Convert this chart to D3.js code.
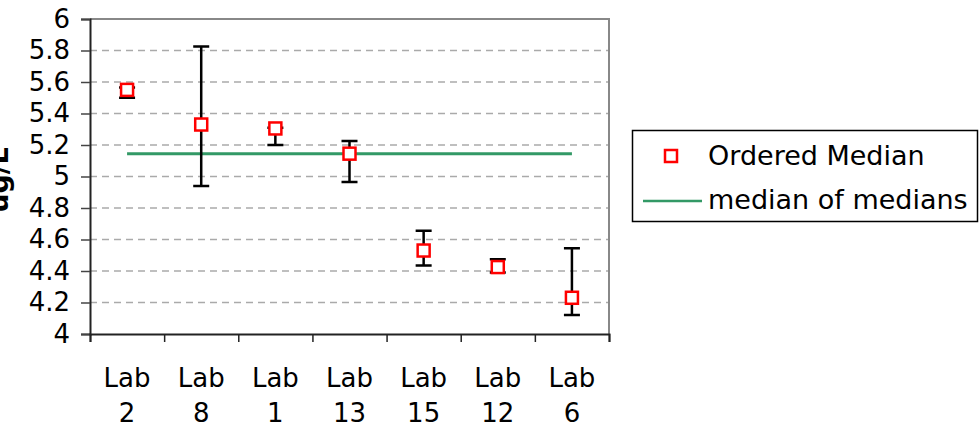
<!DOCTYPE html>
<html>
<head>
<meta charset="utf-8">
<script src="https://cdn.jsdelivr.net/npm/d3@7/dist/d3.min.js"></script>
<style>
	body { margin: 0; background: #fff; }
	svg text { font-family: "DejaVu Sans", Verdana, sans-serif; fill: #000; }
</style>
</head>
<body>
<div id="chart"></div>
<script>

// data
const labs = [ "Lab 2", "Lab 8", "Lab 1", "Lab 13", "Lab 15", "Lab 12", "Lab 6" ];
const medians = [ 5.55, 5.33, 5.305, 5.145, 4.53, 4.425, 4.23 ];
const lows    = [ 5.50, 4.94, 5.20, 4.965, 4.435, 4.39, 4.12 ];
const highs   = [ 5.565, 5.825, 5.31, 5.225, 4.655, 4.475, 4.545 ];
const median_of_medians = 5.145;
const y_ticks = [ 4, 4.2, 4.4, 4.6, 4.8, 5, 5.2, 5.4, 5.6, 5.8, 6 ];
const legend_names = [ "Ordered Median", "median of medians" ];

///////////////////////////////////////////////////////////////////////

const width = 979, height = 437;
const plot = { left: 90, right: 609, top: 19, bottom: 334 };
const font_size = 26;

const svg = d3.select( "#chart" )
	.append( "svg" )
	.attr( "width", width )
	.attr( "height", height );

const X = d3.scaleBand()
	.domain( labs )
	.range( [ plot.left, plot.right ] );

const X_edges = d3.scaleLinear()
	.domain( [ 0, labs.length ] )
	.range( [ plot.left, plot.right ] );

const Y = d3.scaleLinear()
	.domain( [ 4, 6 ] )
	.range( [ plot.bottom, plot.top ] );

const cx = d => X( d ) + X.bandwidth() / 2;

// gridlines
svg.append( "g" )
	.selectAll( "line" )
	.data( y_ticks.filter( t => t > 4 && t < 6 ) )
	.join( "line" )
		.attr( "x1", plot.left )
		.attr( "x2", plot.right )
		.attr( "y1", d => Y( d ) )
		.attr( "y2", d => Y( d ) )
		.attr( "stroke", "#aaa" )
		.attr( "stroke-width", 1.5 )
		.attr( "stroke-dasharray", "7,5" );

// plot area frame (top and right in grey)
svg.append( "path" )
	.attr( "d", `M${plot.left},${plot.top}H${plot.right}V${plot.bottom}` )
	.attr( "fill", "none" )
	.attr( "stroke", "#888" )
	.attr( "stroke-width", 2 );

// y axis
const y_axis = svg.append( "g" )
	.attr( "transform", `translate(${plot.left},0)` )
	.call( d3.axisLeft( Y ).tickValues( y_ticks ).tickSize( 9 ).tickPadding( 11 ).tickFormat( d => d ) );
y_axis.select( ".domain" ).attr( "stroke", "#222" ).attr( "stroke-width", 2 );
y_axis.selectAll( ".tick line" ).attr( "stroke", "#444" ).attr( "stroke-width", 1.5 );
y_axis.selectAll( ".tick text" )
	.attr( "font-size", font_size )
	.attr( "font-family", "DejaVu Sans, sans-serif" );

// x axis, ticks on the category edges
const x_axis = svg.append( "g" )
	.attr( "transform", `translate(0,${plot.bottom})` )
	.call( d3.axisBottom( X_edges ).ticks( labs.length ).tickSize( 8 ).tickFormat( "" ) );
x_axis.select( ".domain" ).attr( "stroke", "#222" ).attr( "stroke-width", 2 );
x_axis.selectAll( ".tick line" ).attr( "stroke", "#222" ).attr( "stroke-width", 1.5 );

// category labels on two lines
const x_labels = svg.append( "g" )
	.selectAll( "text" )
	.data( labs )
	.join( "text" )
		.attr( "text-anchor", "middle" )
		.attr( "font-size", font_size );
x_labels.append( "tspan" )
	.attr( "x", d => cx( d ) )
	.attr( "y", 387 )
	.text( d => d.split( " " )[ 0 ] );
x_labels.append( "tspan" )
	.attr( "x", d => cx( d ) )
	.attr( "y", 422 )
	.text( d => d.split( " " )[ 1 ] );

// y title, partly cut off at the left edge like the original
svg.append( "text" )
	.attr( "transform", "translate(8,180) rotate(-90)" )
	.attr( "text-anchor", "middle" )
	.attr( "font-size", 27 )
	.attr( "font-weight", "bold" )
	.text( "ug/L" );

// median of medians
svg.append( "line" )
	.attr( "x1", cx( labs[ 0 ] ) )
	.attr( "x2", cx( labs[ labs.length - 1 ] ) )
	.attr( "y1", Y( median_of_medians ) )
	.attr( "y2", Y( median_of_medians ) )
	.attr( "stroke", "#339966" )
	.attr( "stroke-width", 3 );

// error bars
const cap = 8;
svg.append( "g" )
	.selectAll( "path" )
	.data( labs )
	.join( "path" )
		.attr( "d", ( d, i ) => {
			let x = cx( d ), y0 = Y( lows[ i ] ), y1 = Y( highs[ i ] );
			return `M${x},${y0}V${y1}M${x - cap},${y1}H${x + cap}M${x - cap},${y0}H${x + cap}`;
		} )
		.attr( "fill", "none" )
		.attr( "stroke", "#000" )
		.attr( "stroke-width", 2.5 );

// markers
const m = 12;
svg.append( "g" )
	.selectAll( "rect" )
	.data( labs )
	.join( "rect" )
		.attr( "x", d => cx( d ) - m / 2 )
		.attr( "y", ( d, i ) => Y( medians[ i ] ) - m / 2 )
		.attr( "width", m )
		.attr( "height", m )
		.attr( "fill", "#fff" )
		.attr( "stroke", "#f00" )
		.attr( "stroke-width", 2.5 );

// legend
const legend = svg.append( "g" );
legend.append( "rect" )
	.attr( "x", 632.5 )
	.attr( "y", 130.5 )
	.attr( "width", 345 )
	.attr( "height", 91 )
	.attr( "fill", "#fff" )
	.attr( "stroke", "#000" )
	.attr( "stroke-width", 1.5 );
legend.append( "rect" )
	.attr( "x", 665 )
	.attr( "y", 150 )
	.attr( "width", 12 )
	.attr( "height", 12 )
	.attr( "fill", "none" )
	.attr( "stroke", "#f00" )
	.attr( "stroke-width", 2.5 );
legend.append( "line" )
	.attr( "x1", 643 )
	.attr( "x2", 702 )
	.attr( "y1", 201 )
	.attr( "y2", 201 )
	.attr( "stroke", "#339966" )
	.attr( "stroke-width", 2.5 );
legend.selectAll( "text" )
	.data( legend_names )
	.join( "text" )
		.attr( "x", 708 )
		.attr( "y", ( d, i ) => i ? 209 : 165 )
		.attr( "font-size", 27 )
		.text( d => d );

</script>
</body>
</html>
